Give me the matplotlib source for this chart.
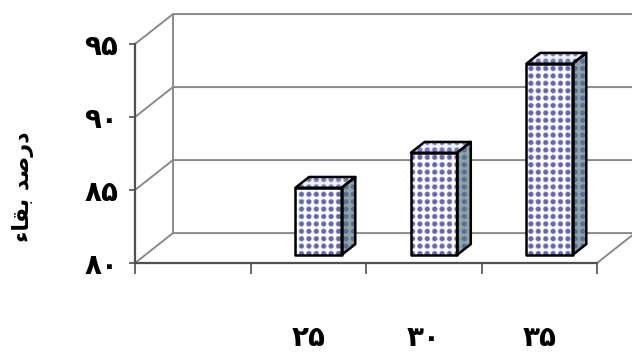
import numpy as np
import matplotlib
matplotlib.use('Agg')
import matplotlib.pyplot as plt
from matplotlib.patches import Polygon

# survival percentage per temperature
categories = ['۲۵', '۳۰', '۳۵']
values = [84.6, 87.0, 93.1]
yticks = [80, 85, 90, 95]
ytick_labels = ['۸۰', '۸۵', '۹۰', '۹۵']
# "درصد بقاء" written in presentation forms, visual order
ylabel = '\uFE80\uFE8E\uFED8\uFE91 \uFEAA\uFEBB\uFEAD\uFEA9'

positions = np.arange(1, len(categories) + 1)
ymin, ymax = 80, 95
xlo, xhi = -0.5, 3.5
DX, DY = 0.329, 2.05          # depth offset of the back wall
BW = 0.4                      # bar width
F0, F1 = 0.27, 0.63           # bar depth range (fraction of full depth)

plt.rcParams['font.family'] = ['DejaVu Sans']
fig = plt.figure(figsize=(6.36, 3.54), dpi=100)
W, H = 636, 354
ax = fig.add_axes([135 / W, (H - 263) / H, (632 - 135) / W, (263 - 13) / H])
ax.set_xlim(xlo, xlo + (632 - 135) / 115.5)
ax.set_ylim(ymin, ymin + (263 - 13) / 14.6)

grid_c = '#8a8a8a'
axis_c = '#505050'

# walls and gridlines
for v in yticks:
    ax.plot([xlo, xlo + DX, xhi + DX], [v, v + DY, v + DY], color=grid_c, lw=1.4, zorder=1)
ax.plot([xlo + DX, xlo + DX], [ymin + DY, ymax + DY], color=grid_c, lw=1.4, zorder=1)
ax.plot([xhi + DX, xhi + DX], [ymin + DY, ymax + DY], color=grid_c, lw=1.4, zorder=1)
ax.plot([xhi, xhi + DX], [ymin, ymin + DY], color=grid_c, lw=1.4, zorder=1)

# dotted texture, one sample per pixel
x0, x1 = ax.get_xlim()
y0, y1 = ax.get_ylim()
GX, GY = np.meshgrid(np.arange(497) + 0.5, np.arange(250) + 0.5)
period = 7.4
d = np.hypot((GX % period) - period / 2, (GY % period) - period / 2)
dots = np.clip((3.3 - d) / 1.5, 0, 1)[:, :, None]


def texture(bg, fg):
    bg = np.array(matplotlib.colors.to_rgb(bg))
    fg = np.array(matplotlib.colors.to_rgb(fg))
    return bg * (1 - dots) + fg * dots


tex_front = texture('#ffffff', '#6466b4')
tex_top = texture('#f2f3fa', '#7679be')
tex_side = texture('#8ea5a7', '#5a6c98')


def face(pts, tex):
    poly = Polygon(pts, closed=True, facecolor='none', edgecolor='black',
                   lw=1.8, joinstyle='round', zorder=4)
    ax.add_patch(poly)
    im = ax.imshow(tex, extent=(x0, x1, y0, y1), origin='upper', aspect='auto',
                   interpolation='nearest', zorder=3)
    im.set_clip_path(poly)


for p, v in zip(positions, values):
    l = p - BW / 2 + F0 * DX
    r = p + BW / 2 + F0 * DX
    b = ymin + F0 * DY
    t = v + F0 * DY
    ddx = (F1 - F0) * DX
    ddy = (F1 - F0) * DY
    face([(r, b), (r + ddx, b + ddy), (r + ddx, t + ddy), (r, t)], tex_side)
    face([(l, t), (r, t), (r + ddx, t + ddy), (l + ddx, t + ddy)], tex_top)
    face([(l, b), (r, b), (r, t), (l, t)], tex_front)

# front axes
for s in ['top', 'right']:
    ax.spines[s].set_visible(False)
ax.spines['left'].set_bounds(ymin, ymax)
ax.spines['bottom'].set_bounds(xlo, xhi)
for s in ['left', 'bottom']:
    ax.spines[s].set_color(axis_c)
    ax.spines[s].set_linewidth(1.6)
    ax.spines[s].set_zorder(5)

ax.set_yticks(yticks)
ax.set_yticklabels(ytick_labels, fontsize=20, fontweight='bold')
ax.tick_params(axis='y', length=4, width=1.2, color=axis_c, pad=8)

ax.set_xticks(np.arange(xlo, xhi + 0.01, 1.0))
ax.set_xticklabels([])
ax.set_xticks(positions, minor=True)
ax.set_xticklabels(categories, minor=True, fontsize=20, fontweight='bold')
ax.tick_params(axis='x', which='major', length=8, width=1.2, color=axis_c)
ax.tick_params(axis='x', which='minor', length=0, pad=44)

fig.text(23 / W, 1 - 187 / H, ylabel, rotation=90, ha='center', va='center',
         fontsize=16, fontweight='bold')

fig.savefig('out.png', dpi=100)
